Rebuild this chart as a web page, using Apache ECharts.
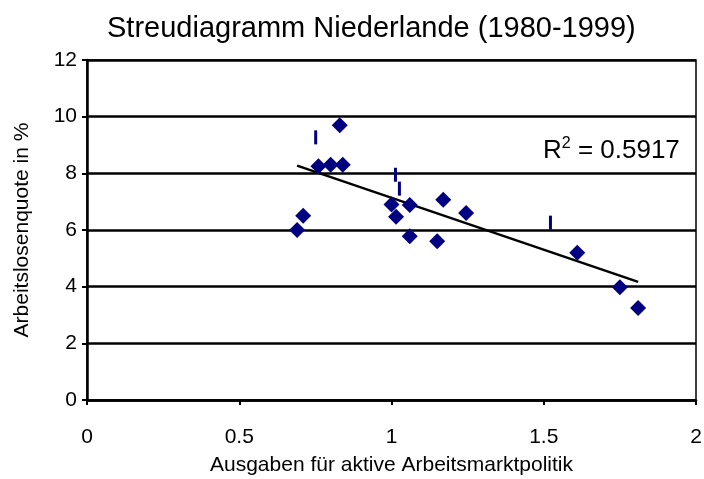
<!DOCTYPE html>
<html>
<head>
<meta charset="utf-8">
<script src="https://cdn.jsdelivr.net/npm/echarts@6/dist/echarts.min.js"></script>
<style>
  html, body { margin: 0; padding: 0; background: #fff; }
  #chart { width: 704px; height: 479px; }
</style>
</head>
<body>
<div id="chart"></div>
<script>
// Ausgaben (x) und Arbeitslosenquote (y)
const spendX = [0.69, 0.71, 0.76, 0.80, 0.83, 0.84, 1.00, 1.015, 1.06, 1.06, 1.15, 1.17, 1.245, 1.61, 1.75, 1.81];
const rateY  = [6.0, 6.5, 8.25, 8.3, 9.7, 8.3, 6.9, 6.47, 6.88, 5.78, 5.6, 7.07, 6.6, 5.2, 3.98, 3.25];

// kleine senkrechte Striche
const dashX = [0.751, 1.013, 1.026, 1.522];
const dashY = [9.27, 7.95, 7.46, 6.26];

const trendX = [0.69, 1.81];
const trendY = [8.27, 4.17];

const xTicks = ['0', '0.5', '1', '1.5', '2'];
const rSquared = '0.5917';

const font = 'Liberation Sans, Arial, sans-serif';

const chart = echarts.init(document.getElementById('chart'));

const option = {
    animation: false,
    backgroundColor: '#fff',
    title: {
        text: 'Streudiagramm Niederlande (1980-1999)',
        left: 102,
        top: 9,
        textStyle: { fontFamily: font, fontSize: 29, fontWeight: 'normal', color: '#000' }
    },
    grid: {
        left: 87, right: 8, top: 60, bottom: 79,
        outerBoundsMode: 'none',
        show: true, borderColor: '#000', borderWidth: 1.5
    },
    xAxis: {
        type: 'value',
        min: 0, max: 2, interval: 0.5,
        name: 'Ausgaben für aktive Arbeitsmarktpolitik',
        nameLocation: 'middle',
        nameGap: 55,
        nameTextStyle: { fontFamily: font, fontSize: 21, color: '#000' },
        axisLine: { show: true, lineStyle: { color: '#000', width: 2.5 } },
        axisTick: { show: true, length: 5, lineStyle: { color: '#000', width: 2 } },
        axisLabel: {
            fontFamily: font, fontSize: 21, color: '#000', margin: 27,
            formatter: v => xTicks[Math.round(v / 0.5)]
        },
        splitLine: { show: false }
    },
    yAxis: {
        type: 'value',
        min: 0, max: 12, interval: 2,
        name: 'Arbeitslosenquote in %',
        nameLocation: 'middle',
        nameGap: 54,
        nameTextStyle: { fontFamily: font, fontSize: 21, color: '#000' },
        axisLine: { show: true, lineStyle: { color: '#000', width: 2.5 } },
        axisTick: { show: true, length: 5, lineStyle: { color: '#000', width: 2 } },
        axisLabel: { fontFamily: font, fontSize: 21, color: '#000', margin: 10 },
        splitLine: { show: true, lineStyle: { color: '#000', width: 2.5 } }
    },
    graphic: [{
        type: 'text',
        left: 543,
        top: 136,
        style: {
            text: '{b|R}{s|2}{b| = ' + rSquared + '}',
            rich: {
                b: { fontFamily: font, fontSize: 26, fill: '#000', verticalAlign: 'bottom' },
                s: { fontFamily: font, fontSize: 16, fill: '#000', verticalAlign: 'top', padding: [0, 0, 12, 0] }
            }
        }
    }],
    series: [
        {
            type: 'line',
            data: trendX.map((x, i) => [x, trendY[i]]),
            symbol: 'none',
            lineStyle: { color: '#000', width: 2.5 },
            z: 3
        },
        {
            type: 'scatter',
            data: dashX.map((x, i) => [x, dashY[i]]),
            symbol: 'rect',
            symbolSize: [3, 14],
            itemStyle: { color: '#000080', opacity: 1 },
            z: 4
        },
        {
            type: 'scatter',
            data: spendX.map((x, i) => [x, rateY[i]]),
            symbol: 'diamond',
            symbolSize: 16,
            itemStyle: { color: '#000080', opacity: 1 },
            z: 5
        }
    ]
};

chart.setOption(option);
</script>
</body>
</html>
